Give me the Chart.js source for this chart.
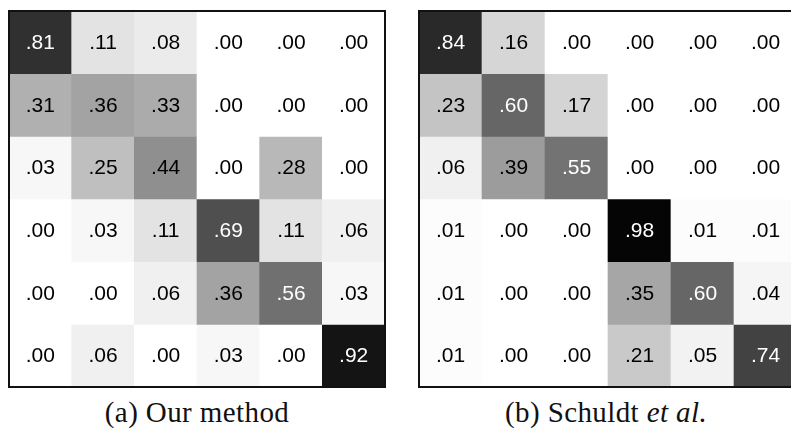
<!DOCTYPE html>
<html>
<head>
<meta charset="utf-8">
<script src="https://cdn.jsdelivr.net/npm/chart.js@4.4.1/dist/chart.umd.min.js"></script>
<style>
  html, body { margin: 0; padding: 0; background: #fff; width: 791px; height: 428px; overflow: hidden; position: relative; }
  .panel { position: absolute; top: 10px; }
  .caption { position: absolute; top: 398px; font-family: "Liberation Serif", serif; font-size: 29px; line-height: 29px; letter-spacing: 0.4px; color: #111; text-align: center; white-space: nowrap; }
</style>
</head>
<body>
<div class="panel" style="left:8px"><canvas id="chartOurs" width="378" height="378"></canvas></div>
<div class="panel" style="left:418px"><canvas id="chartSchuldt" width="380" height="378"></canvas></div>
<div class="caption" style="left:97px; width:200px">(a) Our method</div>
<div class="caption" style="left:505px; width:200px">(b) Schuldt <i>et al.</i></div>
<script>
// classi (colonne / righe della matrice di confusione)
const classes = ['0', '1', '2', '3', '4', '5'];

// (a) Our method, righe della matrice
const oursValues = [
    [0.81, 0.11, 0.08, 0.00, 0.00, 0.00],
    [0.31, 0.36, 0.33, 0.00, 0.00, 0.00],
    [0.03, 0.25, 0.44, 0.00, 0.28, 0.00],
    [0.00, 0.03, 0.11, 0.69, 0.11, 0.06],
    [0.00, 0.00, 0.06, 0.36, 0.56, 0.03],
    [0.00, 0.06, 0.00, 0.03, 0.00, 0.92]
];

// (b) Schuldt et al.
const schuldtValues = [
    [0.84, 0.16, 0.00, 0.00, 0.00, 0.00],
    [0.23, 0.60, 0.17, 0.00, 0.00, 0.00],
    [0.06, 0.39, 0.55, 0.00, 0.00, 0.00],
    [0.01, 0.00, 0.00, 0.98, 0.01, 0.01],
    [0.01, 0.00, 0.00, 0.35, 0.60, 0.04],
    [0.01, 0.00, 0.00, 0.21, 0.05, 0.74]
];

// scala di grigi: 1 -> nero, 0 -> bianco
function grayFor(v) {
    const g = Math.round(255 * (1 - v));
    return `rgb(${g}, ${g}, ${g})`;
}

// testo delle celle
const cellLabels = {
    id: 'cellLabels',
    afterDatasetsDraw(chart) {
        const ctx = chart.ctx;
        const matrix = chart.options.plugins.cellLabels.values;
        ctx.save();
        ctx.font = '21px "Liberation Sans", Arial, sans-serif';
        ctx.textAlign = 'center';
        ctx.textBaseline = 'middle';
        chart.data.datasets.forEach((ds, r) => {
            const meta = chart.getDatasetMeta(r);
            meta.data.forEach((bar, c) => {
                const v = matrix[r][c];
                const cy = (bar.y + bar.base) / 2;
                ctx.fillStyle = v > 0.5 ? '#ffffff' : '#000000';
                ctx.fillText(v.toFixed(2).slice(1), bar.x, cy + 1);
            });
        });
        ctx.restore();
    }
};

// cornice nera
const frame = {
    id: 'frame',
    afterDraw(chart) {
        const a = chart.chartArea;
        const ctx = chart.ctx;
        ctx.save();
        ctx.strokeStyle = '#111';
        ctx.lineWidth = 2;
        ctx.strokeRect(a.left, a.top, a.right - a.left, a.bottom - a.top);
        ctx.restore();
    }
};

function buildMatrix(canvasId, values) {
    const datasets = values.map((row, r) => ({
        data: row.map(() => [r, r + 1]),
        backgroundColor: row.map(grayFor),
        borderWidth: 0,
        barPercentage: 1,
        categoryPercentage: 1,
        grouped: false
    }));

    return new Chart(document.getElementById(canvasId), {
        type: 'bar',
        data: { labels: classes, datasets: datasets },
        options: {
            responsive: false,
            animation: false,
            layout: { padding: 1 },
            scales: {
                x: { display: false, offset: true },
                y: { display: false, min: 0, max: 6, reverse: true }
            },
            plugins: {
                legend: { display: false },
                tooltip: { enabled: false },
                cellLabels: { values: values }
            }
        },
        plugins: [cellLabels, frame]
    });
}

buildMatrix('chartOurs', oursValues);
buildMatrix('chartSchuldt', schuldtValues);
</script>
</body>
</html>
